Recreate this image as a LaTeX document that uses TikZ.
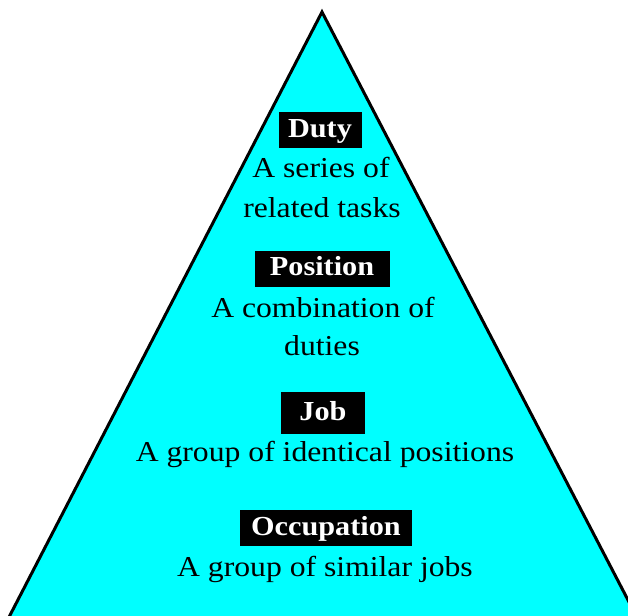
\documentclass[tikz,border=0pt]{standalone}
\usepackage{fontspec}
\setmainfont{Liberation Serif}[FakeStretch=1.1]
\definecolor{pyramidfill}{RGB}{0,255,255}
\begin{document}
\begin{tikzpicture}[x=1pt,y=-1pt,
  tag/.style={fill=black,text=white,font=\fontsize{27.5}{34}\selectfont\bfseries,
    inner sep=0pt,minimum height=36pt,text height=20pt,text depth=6pt},
  desc/.style={anchor=base,inner sep=0pt,font=\fontsize{28.8}{34}\selectfont}]
  \useasboundingbox (0,0) rectangle (628,615);
  \clip (0,0) rectangle (628,615);
  % pyramid
  \coordinate (apex) at (322,12);
  \coordinate (bl) at (-8,650);
  \coordinate (br) at (654,650);
  \draw[fill=pyramidfill,line width=3pt,line join=miter] (apex) -- (br) -- (bl) -- cycle;
  % levels
  \node[tag,minimum width=83pt] (duty) at (320,130) {Duty};
  \node[desc] (duty1) at (321,177) {A series of};
  \node[desc] (duty2) at (322,217) {related tasks};
  \node[tag,minimum width=135pt] (pos) at (322,268.5) {Position};
  \node[desc] (pos1) at (323,317) {A combination of};
  \node[desc] (pos2) at (322,355) {duties};
  \node[tag,minimum width=84pt,minimum height=42pt] (job) at (323,413) {Job};
  \node[desc] (job1) at (325,461) {A group of identical positions};
  \node[tag,minimum width=172pt] (occ) at (326,528) {Occupation};
  \node[desc] (occ1) at (325,576) {A group of similar jobs};
\end{tikzpicture}
\end{document}
